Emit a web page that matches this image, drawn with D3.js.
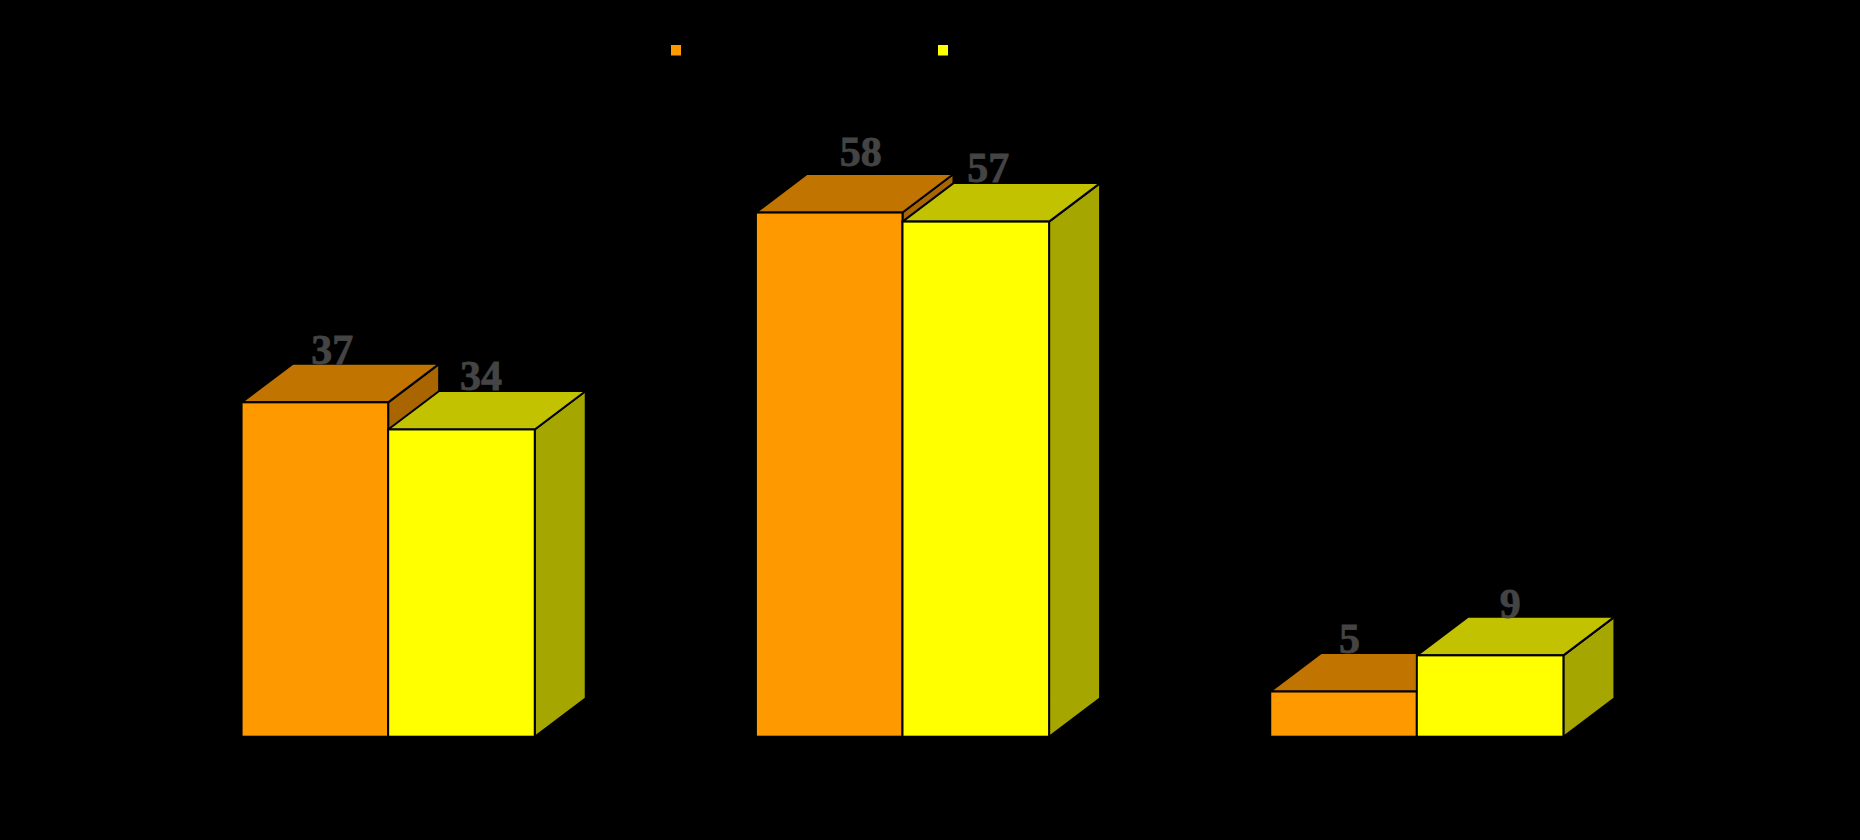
<!DOCTYPE html>
<html>
<head>
<meta charset="utf-8">
<script src="https://cdn.jsdelivr.net/npm/d3@7"></script>
<style>
html,body{margin:0;padding:0;background:#000;overflow:hidden}
svg{display:block}
</style>
</head>
<body>
<svg id="chart" width="1860" height="840"></svg>
<script>
const groups = ["A", "B", "C"];
const seriesKeys = ["first", "second"];
const firstValues = [37, 58, 5];
const secondValues = [34, 57, 9];
const seriesValues = [firstValues, secondValues];
const frontColors = ["#FF9900", "#FFFF00"];
const topColors = ["#C27400", "#C2C200"];
const sideColors = ["#A96500", "#A6A600"];
// hand-placed label offsets seen in the picture, per series and group
const labelDx = [[17.5, 31.5, 6], [19.5, 12.5, 20]];
const labelDy = [[-38, -46.5, -38.5], [-39.5, -40, -37]];

const svg = d3.select("#chart");
const depthX = 51, depthY = 38.5;

const x = d3.scaleBand().domain(groups).range([131, 1674]).paddingInner(0.43).paddingOuter(0.215);
const inner = d3.scaleBand().domain(seriesKeys).range([0, x.bandwidth()]);
const y = d3.scaleLinear().domain([0, 60]).range([736.7, 194.5]);

const line = d3.line();
const poly = pts => line(pts) + "Z";

const bars = svg.append("g");
const labels = svg.append("g");

seriesKeys.forEach((key, s) => {
  const g = bars.append("g").attr("class", "series-" + key);
  seriesValues[s].forEach((v, i) => {
    const x0 = x(groups[i]) + inner(key);
    const x1 = x0 + inner.bandwidth();
    const yTop = y(v), yBase = y(0);
    g.append("path")
      .attr("d", poly([[x1, yTop], [x1 + depthX, yTop - depthY], [x1 + depthX, yBase - depthY], [x1, yBase]]))
      .attr("fill", sideColors[s]).attr("stroke", "#000").attr("stroke-width", 2).attr("stroke-linejoin", "round");
    g.append("path")
      .attr("d", poly([[x0, yTop], [x0 + depthX, yTop - depthY], [x1 + depthX, yTop - depthY], [x1, yTop]]))
      .attr("fill", topColors[s]).attr("stroke", "#000").attr("stroke-width", 2).attr("stroke-linejoin", "round");
    g.append("rect")
      .attr("x", x0).attr("y", yTop).attr("width", x1 - x0).attr("height", yBase - yTop)
      .attr("fill", frontColors[s]).attr("stroke", "#000").attr("stroke-width", 2);
    labels.append("text")
      .attr("x", (x0 + x1) / 2 + labelDx[s][i])
      .attr("y", yTop + labelDy[s][i])
      .attr("text-anchor", "middle")
      .attr("font-family", "'Liberation Serif', serif")
      .attr("font-weight", "bold")
      .attr("font-size", 42)
      .attr("fill", "#444444")
      .attr("stroke", "#444444")
      .attr("stroke-width", 0.8)
      .text(v);
  });
});

const legendX = d3.scalePoint().domain(seriesKeys).range([671, 938]);
const legend = svg.append("g");
seriesKeys.forEach((key, s) => {
  legend.append("rect")
    .attr("x", legendX(key)).attr("y", 45).attr("width", 10).attr("height", 10.5)
    .attr("fill", frontColors[s]);
});
</script>
</body>
</html>
